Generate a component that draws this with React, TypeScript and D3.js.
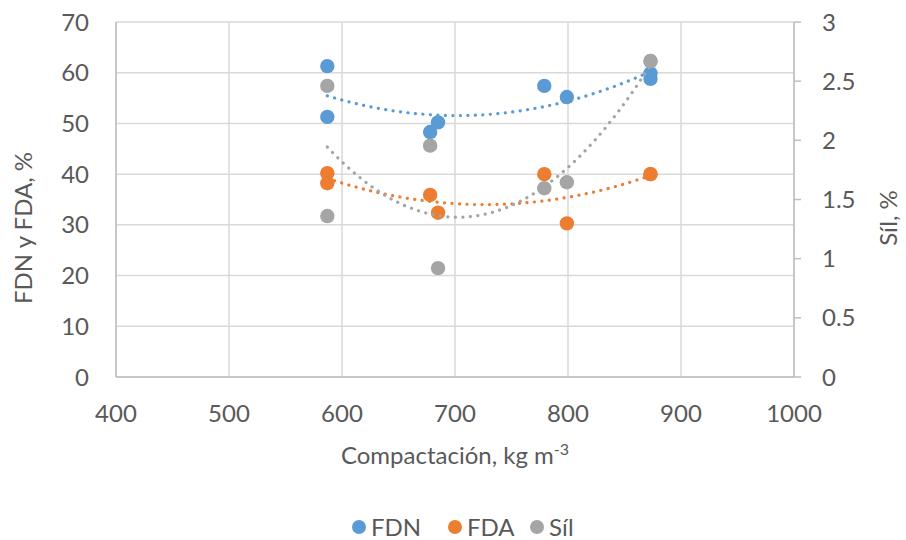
import React from 'react';
import * as d3 from 'd3';

// Compactación (kg m-3) for each sample
const compaction = [587, 587, 678, 685, 779, 799, 873, 873];
// Series values
const fdnValues = [61.3, 51.3, 48.3, 50.2, 57.4, 55.2, 59.9, 58.8];
const fdaValues = [40.2, 38.2, 35.9, 32.4, 40.0, 30.3, 40.0, 40.0];
const silValues = [2.46, 1.36, 1.955, 0.92, 1.595, 1.646, 2.67, 2.67];

const xTicks = [400, 500, 600, 700, 800, 900, 1000];
const yLeftTicks = [0, 10, 20, 30, 40, 50, 60, 70];
const yRightTicks = [0, 0.5, 1, 1.5, 2, 2.5, 3];

const seriesNames = ['FDN', 'FDA', 'Síl'];
const seriesColors = ['#5B9BD5', '#ED7D31', '#A5A5A5'];

const FONT = 'Lato, "Open Sans", sans-serif';
const FS = 24;
const TEXT = '#595959';
const GRID = '#d9d9d9';

// least squares fit of y = a + b*x + c*x^2 (x centred for stability)
function quadFit(xs: number[], ys: number[]) {
  const m = d3.mean(xs) as number;
  const s = new Array(5).fill(0);
  const t = new Array(3).fill(0);
  xs.forEach((x0, i) => {
    const x = x0 - m;
    for (let k = 0; k < 5; k++) s[k] += Math.pow(x, k);
    for (let k = 0; k < 3; k++) t[k] += ys[i] * Math.pow(x, k);
  });
  const A = [
    [s[0], s[1], s[2], t[0]],
    [s[1], s[2], s[3], t[1]],
    [s[2], s[3], s[4], t[2]],
  ];
  for (let i = 0; i < 3; i++) {
    for (let j = i + 1; j < 3; j++) {
      const f = A[j][i] / A[i][i];
      for (let k = i; k < 4; k++) A[j][k] -= f * A[i][k];
    }
  }
  const c = [0, 0, 0];
  for (let i = 2; i >= 0; i--) {
    let v = A[i][3];
    for (let k = i + 1; k < 3; k++) v -= A[i][k] * c[k];
    c[i] = v / A[i][i];
  }
  return (x: number) => c[0] + c[1] * (x - m) + c[2] * (x - m) * (x - m);
}

export default function App() {
  const width = 906;
  const height = 540;
  const left = 116, right = 794, top = 22, bottom = 377;

  const x = d3.scaleLinear().domain([400, 1000]).range([left, right]);
  const yL = d3.scaleLinear().domain([0, 70]).range([bottom, top]);
  const yR = d3.scaleLinear().domain([0, 3]).range([bottom, top]);

  const series = [
    { values: fdnValues, y: yL },
    { values: fdaValues, y: yL },
    { values: silValues, y: yR },
  ];

  const xMin = d3.min(compaction) as number;
  const xMax = d3.max(compaction) as number;
  const samples = d3.range(0, 101).map(i => xMin + (xMax - xMin) * i / 100);

  return (
    <svg width={width} height={height} style={{ display: 'block', position: 'absolute', left: 0, top: 0 }}>
      <rect width={width} height={height} fill="#fff" />
      {/* gridlines */}
      {xTicks.map(t => (
        <line key={'gx' + t} x1={x(t)} x2={x(t)} y1={top} y2={bottom} stroke={GRID} strokeWidth={1.5} />
      ))}
      {yLeftTicks.map(t => (
        <line key={'gy' + t} x1={left} x2={right} y1={yL(t)} y2={yL(t)} stroke={GRID} strokeWidth={1.5} />
      ))}
      {/* axes */}
      <line x1={left} x2={right} y1={bottom} y2={bottom} stroke="#bfbfbf" strokeWidth={1.5} />
      <line x1={left} x2={left} y1={top} y2={bottom} stroke="#bfbfbf" strokeWidth={1.5} />
      <line x1={right} x2={right} y1={top} y2={bottom} stroke="#bfbfbf" strokeWidth={1.5} />
      {yRightTicks.map(t => (
        <line key={'rt' + t} x1={right} x2={right + 7} y1={yR(t)} y2={yR(t)} stroke="#bfbfbf" strokeWidth={1.5} />
      ))}

      {/* tick labels */}
      {xTicks.map(t => (
        <text key={'xl' + t} x={x(t)} y={422} textAnchor="middle" fontFamily={FONT} fontSize={FS} fill={TEXT}>{t}</text>
      ))}
      {yLeftTicks.map(t => (
        <text key={'yl' + t} x={89} y={yL(t) + 8.5} textAnchor="end" fontFamily={FONT} fontSize={FS} fill={TEXT}>{t}</text>
      ))}
      {yRightTicks.map(t => (
        <text key={'yr' + t} x={822} y={yR(t) + 8.5} textAnchor="start" fontFamily={FONT} fontSize={FS} fill={TEXT}>{t}</text>
      ))}

      {/* axis titles */}
      <text x={455} y={464} textAnchor="middle" fontFamily={FONT} fontSize={FS} fill={TEXT}>
        Compactación, kg m<tspan dy={-9} fontSize={16}>-3</tspan>
      </text>
      <text transform="translate(32,228) rotate(-90)" textAnchor="middle" fontFamily={FONT} fontSize={FS} fill={TEXT}>FDN y FDA, %</text>
      <text transform="translate(897,218) rotate(-90)" textAnchor="middle" fontFamily={FONT} fontSize={FS} fill={TEXT}>Síl, %</text>

      {/* points */}
      {series.map((s, si) => (
        <g key={'pts' + si}>
          {s.values.map((v, i) => (
            <circle key={i} cx={x(compaction[i])} cy={s.y(v)} r={7.2} fill={seriesColors[si]} />
          ))}
        </g>
      ))}

      {/* polynomial trendlines */}
      {series.map((s, si) => {
        const f = quadFit(compaction, s.values);
        const line = d3.line<number>().x(d => x(d)).y(d => s.y(f(d)));
        return (
          <path key={'tr' + si} d={line(samples) || ''} fill="none" stroke={seriesColors[si]}
            strokeWidth={3.2} strokeLinecap="round" strokeDasharray="0.1 7.4" />
        );
      })}

      {/* legend */}
      {seriesNames.map((n, i) => {
        const lx = [359, 455, 537][i];
        return (
          <g key={'lg' + n}>
            <circle cx={lx} cy={527} r={7} fill={seriesColors[i]} />
            <text x={lx + 12} y={535.5} fontFamily={FONT} fontSize={FS} fill={TEXT}>{n}</text>
          </g>
        );
      })}
    </svg>
  );
}
